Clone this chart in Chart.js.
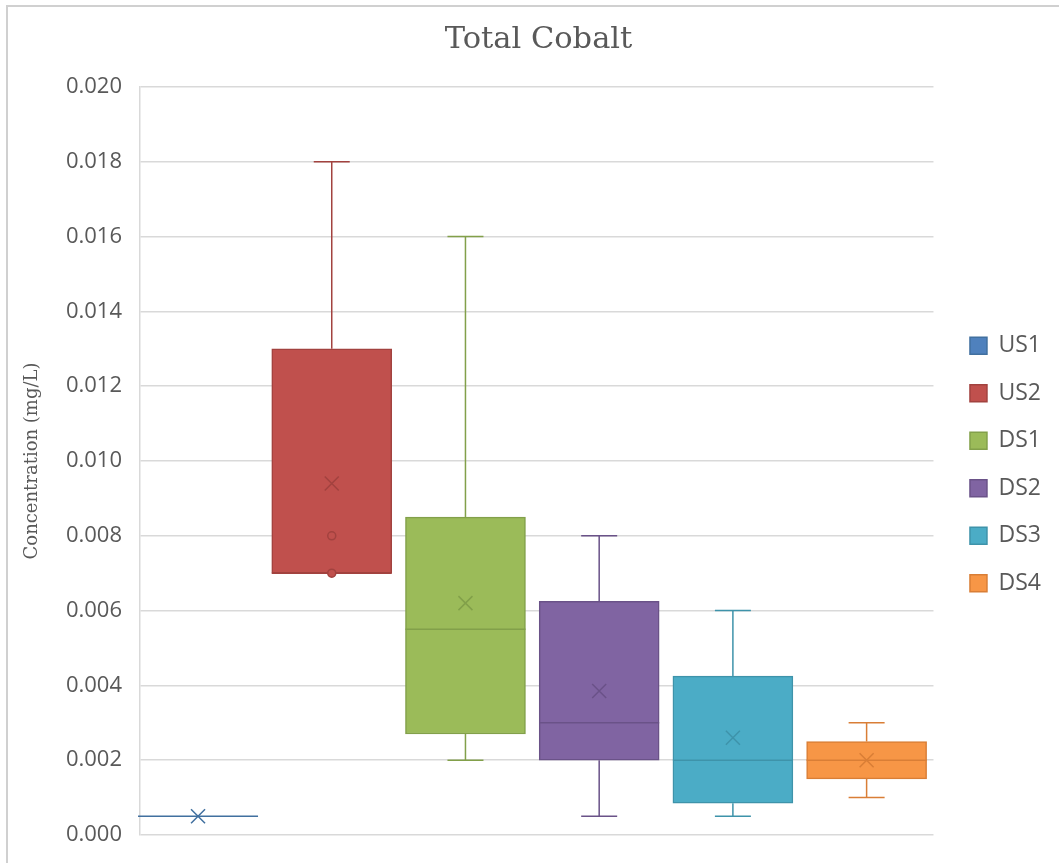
<!DOCTYPE html>
<html>
<head>
<meta charset="utf-8">
<script src="https://cdn.jsdelivr.net/npm/chart.js@4.4.0/dist/chart.umd.min.js"></script>
<style>
  html, body { margin: 0; padding: 0; background: #fff; }
  #frame { position: absolute; left: 6px; top: 5px; width: 1070px; height: 880px;
           border-left: 2px solid #d0d0d0; border-top: 2px solid #d0d0d0; }
  #wrap { position: absolute; left: 0; top: 0; width: 1059px; height: 863px; }
</style>
</head>
<body>
<div id="frame"></div>
<div id="wrap"><canvas id="chart"></canvas></div>
<script>
// box plot stats (mg/L)
var series   = ['US1', 'US2', 'DS1', 'DS2', 'DS3', 'DS4'];
var mins     = [0.0005, 0.007, 0.002,  0.0005,  0.0005,  0.001];
var q1s      = [0.0005, 0.007, 0.0027, 0.002,   0.00085, 0.0015];
var medians  = [0.0005, 0.007, 0.0055, 0.003,   0.002,   0.002];
var q3s      = [0.0005, 0.013, 0.0085, 0.00625, 0.00425, 0.0025];
var maxs     = [0.0005, 0.018, 0.016,  0.008,   0.006,   0.003];
var means    = [0.0005, 0.0094, 0.0062, 0.00385, 0.0026, 0.002];
var points   = [[], [0.008, 0.007], [], [], [], []];
var yTicks   = [0, 0.002, 0.004, 0.006, 0.008, 0.010, 0.012, 0.014, 0.016, 0.018, 0.020];

var fills   = ['#4F81BD', '#C0504D', '#9BBB59', '#8064A2', '#4BACC6', '#F79646'];
var strokes = ['#41709F', '#A2423F', '#82A04A', '#6A5288', '#3E93AA', '#D97E36'];
var textColor = '#595959';

var datasets = series.map(function(name, i) {
  return {
    label: name,
    data: [{ x: i, y: [q1s[i], q3s[i]] }],
    backgroundColor: fills[i],
    borderColor: strokes[i],
    borderWidth: 1.5,
    borderSkipped: false,
    barThickness: 120,
    grouped: false
  };
});

// whiskers, medians, means and points drawn through the chart scales
var boxExtras = {
  id: 'boxExtras',
  afterUpdate: function(chart) {
    // nudge legend and title to where Excel puts them
    var lg = chart.legend;
    lg.left += 12; lg.right += 12;
    lg.top += 47; lg.bottom += 47;
    var tb = chart.titleBlock;
    tb.left += 10; tb.right += 10;
  },
  afterDatasetsDraw: function(chart) {
    var ctx = chart.ctx;
    var y = chart.scales.y;
    ctx.save();
    series.forEach(function(name, i) {
      var bar = chart.getDatasetMeta(i).data[0];
      if (!bar) return;
      var cx = bar.x, half = bar.width / 2;
      ctx.strokeStyle = strokes[i];
      ctx.lineWidth = 1.5;
      ctx.beginPath();
      // upper whisker
      ctx.moveTo(cx, y.getPixelForValue(q3s[i]));
      ctx.lineTo(cx, y.getPixelForValue(maxs[i]));
      ctx.moveTo(cx - 18, y.getPixelForValue(maxs[i]));
      ctx.lineTo(cx + 18, y.getPixelForValue(maxs[i]));
      // lower whisker
      ctx.moveTo(cx, y.getPixelForValue(q1s[i]));
      ctx.lineTo(cx, y.getPixelForValue(mins[i]));
      ctx.moveTo(cx - 18, y.getPixelForValue(mins[i]));
      ctx.lineTo(cx + 18, y.getPixelForValue(mins[i]));
      // median
      ctx.moveTo(cx - half, y.getPixelForValue(medians[i]));
      ctx.lineTo(cx + half, y.getPixelForValue(medians[i]));
      ctx.stroke();
      // mean marker
      var my = y.getPixelForValue(means[i]);
      ctx.beginPath();
      ctx.moveTo(cx - 7, my - 7); ctx.lineTo(cx + 7, my + 7);
      ctx.moveTo(cx - 7, my + 7); ctx.lineTo(cx + 7, my - 7);
      ctx.stroke();
      // points
      points[i].forEach(function(v) {
        ctx.beginPath();
        ctx.arc(cx, y.getPixelForValue(v), 4, 0, Math.PI * 2);
        ctx.fillStyle = fills[i];
        ctx.fill();
        ctx.stroke();
      });
    });
    ctx.restore();
  }
};

new Chart(document.getElementById('chart'), {
  type: 'bar',
  data: { datasets: datasets },
  options: {
    responsive: true,
    maintainAspectRatio: false,
    animation: false,
    layout: { padding: { left: 18, right: 20, top: 0, bottom: 28 } },
    plugins: {
      title: {
        display: true,
        text: 'Total Cobalt',
        color: textColor,
        font: { family: 'DejaVu Serif', size: 30.5, weight: 'normal' },
        padding: { top: 22, bottom: 28.4 }
      },
      legend: {
        position: 'right',
        labels: {
          color: textColor,
          font: { family: 'Open Sans', size: 23 },
          boxWidth: 17,
          boxHeight: 17,
          padding: 24.5
        }
      },
      tooltip: { enabled: false }
    },
    scales: {
      x: {
        type: 'linear',
        display: false,
        offset: false,
        min: -0.434,
        max: 5.5
      },
      y: {
        min: 0,
        max: 0.02,
        afterFit: function(scale) {
          scale.width = 122;
          scale.paddingTop = 0;
          scale.paddingBottom = 0;
        },
        afterBuildTicks: function(scale) {
          scale.ticks = yTicks.map(function(v) { return { value: v }; });
        },
        ticks: {
          color: textColor,
          font: { family: 'Open Sans', size: 22 },
          padding: 18,
          callback: function(v) { return v.toFixed(3); }
        },
        grid: { color: '#d9d9d9', lineWidth: 1.5, drawTicks: false },
        border: { color: '#d9d9d9', width: 1.5 },
        title: {
          display: true,
          text: 'Concentration (mg/L)',
          color: textColor,
          font: { family: 'DejaVu Serif', size: 18 },
          padding: { top: 4, bottom: 0 }
        }
      }
    }
  },
  plugins: [boxExtras]
});
</script>
</body>
</html>
